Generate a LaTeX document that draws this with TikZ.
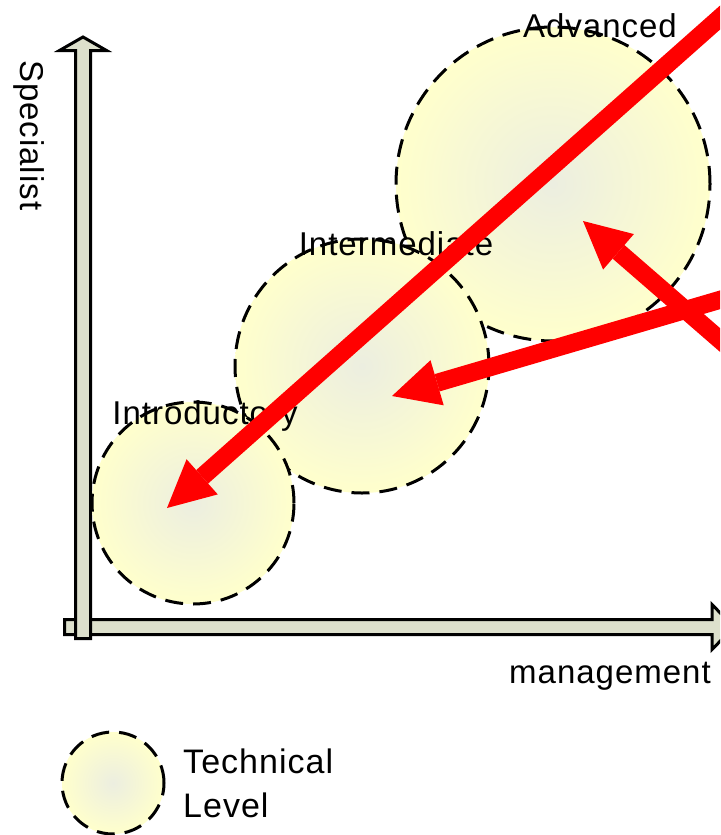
\documentclass[tikz,border=0pt]{standalone}
\usepackage{fontspec}
\setmainfont{Liberation Sans}[LetterSpace=3]
\usetikzlibrary{arrows.meta}
\definecolor{axisfill}{RGB}{221,224,204}
\definecolor{cin}{RGB}{236,238,224}
\definecolor{cout}{RGB}{255,255,204}
\definecolor{arrred}{RGB}{255,0,0}
\tikzset{
  axisshape/.style={draw=black, line width=3pt, fill=axisfill, line join=miter},
  level/.style={circle, inner sep=0pt, draw=black, line width=3pt,
    dash pattern=on 18pt off 10pt, shade, inner color=cin, outer color=cout},
  lbl/.style={font=\fontsize{33}{40}\selectfont, inner sep=0pt, anchor=base},
  leglbl/.style={font=\fontsize{34}{40}\selectfont, inner sep=0pt, anchor=base west},
  redarrow/.style={draw=arrred, line width=18pt,
    -{Triangle[length=47pt,width=47pt,line width=0pt]}},
}
\begin{document}
\begin{tikzpicture}[x=1pt,y=-1pt]
\useasboundingbox (0,0) rectangle (720,835);
\clip (0,0) rectangle (720,835);
% axes
\draw[axisshape] (64.5,619.5) -- (712,619.5) -- (712,604.5) -- (734,627) -- (712,649.5) -- (712,634.5) -- (64.5,634.5) -- cycle;
\draw[axisshape] (75.5,638.5) -- (75.5,50.5) -- (59.5,50.5) -- (83,37) -- (106.5,50.5) -- (90.5,50.5) -- (90.5,638.5) -- cycle;
% levels
\node[level, minimum size=314pt] (adv) at (553,184) {};
\node[level, minimum size=254pt] (inter) at (362,366) {};
\node[level, minimum size=202pt] (intro) at (193,503) {};
\node[level, minimum size=102pt] (legend) at (113,783) {};
% labels
\node[lbl] (advl) at (600,37) {Advanced};
\node[lbl] (interl) at (396,255) {Intermediate};
\node[lbl] (introl) at (205,424) {Introductory};
\node[lbl] (mgmt) at (610,683) {management};
\node[lbl, anchor=base west, rotate=-90] (spec) at (20,60) {Specialist};
\node[leglbl] (tech) at (183,773) {Technical};
\node[leglbl] (lev) at (183,817) {Level};
% red arrows
\coordinate (s1) at (750,-9);
\coordinate (t1) at (167,508);
\coordinate (s2) at (750,291);
\coordinate (t2) at (392,396);
\coordinate (s3) at (750,366);
\coordinate (t3) at (583,221);
\draw[redarrow] (s1) -- (t1);
\draw[redarrow] (s2) -- (t2);
\draw[redarrow] (s3) -- (t3);
\end{tikzpicture}
\end{document}
